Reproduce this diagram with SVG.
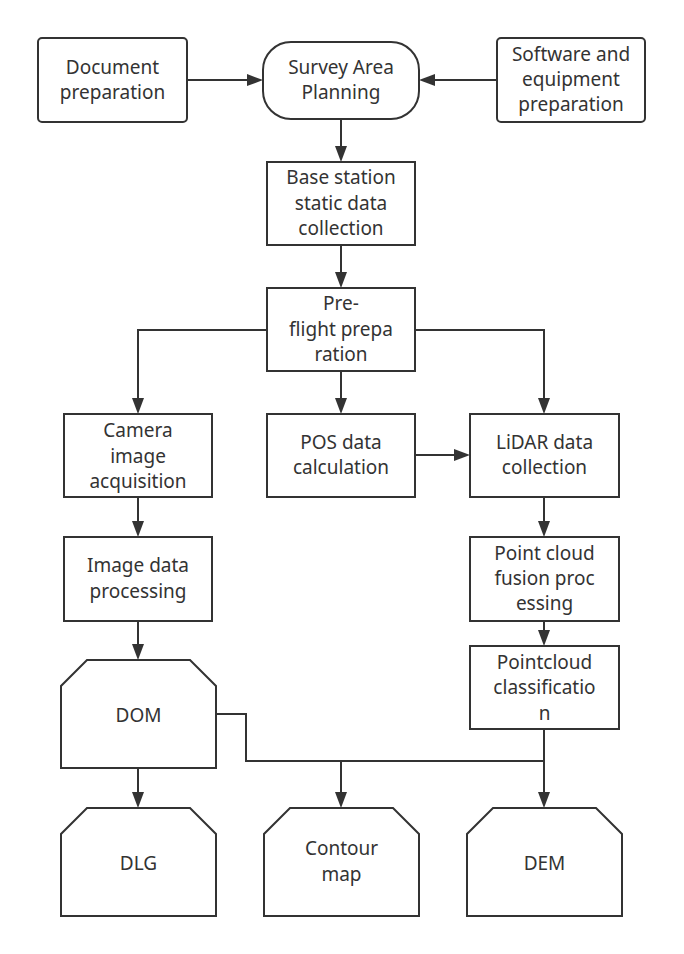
<svg xmlns="http://www.w3.org/2000/svg" width="684" height="954" viewBox="0 0 684 954">
<defs>
<style>
.n{fill:#ffffff;stroke:#333333;stroke-width:2;stroke-linejoin:miter}
.t{font-family:"Noto Sans","Open Sans","Liberation Sans",sans-serif;font-size:19px;fill:#333333;text-anchor:middle}
.c{fill:none;stroke:#333333;stroke-width:2}
</style>
<marker id="ah" markerUnits="userSpaceOnUse" markerWidth="18" markerHeight="14" refX="13" refY="6" orient="auto">
<path d="M0,0 L16,6 L0,12 Z" fill="#333333"/>
</marker>
</defs>
<rect width="684" height="954" fill="#ffffff"/>
<g id="connectors">
<path class="c" d="M187,80 H260" marker-end="url(#ah)"/>
<path class="c" d="M497,80 H422" marker-end="url(#ah)"/>
<path class="c" d="M341,119 V159" marker-end="url(#ah)"/>
<path class="c" d="M341,245 V285" marker-end="url(#ah)"/>
<path class="c" d="M267,330 H138 V411" marker-end="url(#ah)"/>
<path class="c" d="M341,371 V411" marker-end="url(#ah)"/>
<path class="c" d="M415,330 H544 V411" marker-end="url(#ah)"/>
<path class="c" d="M415,455 H467" marker-end="url(#ah)"/>
<path class="c" d="M138,497 V534" marker-end="url(#ah)"/>
<path class="c" d="M544,497 V534" marker-end="url(#ah)"/>
<path class="c" d="M138,621 V657" marker-end="url(#ah)"/>
<path class="c" d="M544,621 V643" marker-end="url(#ah)"/>
<path class="c" d="M138,768 V805" marker-end="url(#ah)"/>
<path class="c" d="M216,714 H246 V761 H544"/>
<path class="c" d="M341,761 V805" marker-end="url(#ah)"/>
<path class="c" d="M544,729 V805" marker-end="url(#ah)"/>
</g>
<g id="doc-prep">
<rect class="n" x="38" y="38" width="149" height="84" rx="4"/>
<text class="t" x="112.5" y="74">Document</text>
<text class="t" x="112.5" y="99">preparation</text>
</g>
<g id="survey-planning">
<rect class="n" x="263" y="42" width="156" height="77" rx="28"/>
<text class="t" x="341" y="74">Survey Area</text>
<text class="t" x="341" y="99">Planning</text>
</g>
<g id="software-prep">
<rect class="n" x="497" y="38" width="148" height="84" rx="4"/>
<text class="t" x="571" y="61">Software and</text>
<text class="t" x="571" y="86">equipment</text>
<text class="t" x="571" y="111">preparation</text>
</g>
<g id="base-station">
<rect class="n" x="267" y="162" width="148" height="83"/>
<text class="t" x="341" y="184">Base station</text>
<text class="t" x="341" y="210">static data</text>
<text class="t" x="341" y="235">collection</text>
</g>
<g id="preflight">
<rect class="n" x="267" y="288" width="148" height="83"/>
<text class="t" x="341" y="310">Pre-</text>
<text class="t" x="341" y="336">flight prepa</text>
<text class="t" x="341" y="361">ration</text>
</g>
<g id="camera">
<rect class="n" x="64" y="414" width="148" height="83"/>
<text class="t" x="138" y="437">Camera</text>
<text class="t" x="138" y="463">image</text>
<text class="t" x="138" y="488">acquisition</text>
</g>
<g id="pos">
<rect class="n" x="267" y="414" width="148" height="83"/>
<text class="t" x="341" y="449">POS data</text>
<text class="t" x="341" y="474">calculation</text>
</g>
<g id="lidar">
<rect class="n" x="470" y="414" width="149" height="83"/>
<text class="t" x="544.5" y="449">LiDAR data</text>
<text class="t" x="544.5" y="474">collection</text>
</g>
<g id="image-proc">
<rect class="n" x="64" y="537" width="148" height="84"/>
<text class="t" x="138" y="572">Image data</text>
<text class="t" x="138" y="598">processing</text>
</g>
<g id="pc-fusion">
<rect class="n" x="470" y="537" width="149" height="84"/>
<text class="t" x="544.5" y="560">Point cloud</text>
<text class="t" x="544.5" y="585">fusion proc</text>
<text class="t" x="544.5" y="610">essing</text>
</g>
<g id="pc-class">
<rect class="n" x="470" y="646" width="149" height="83"/>
<text class="t" x="544.5" y="669">Pointcloud</text>
<text class="t" x="544.5" y="694">classificatio</text>
<text class="t" x="544.5" y="720">n</text>
</g>
<g id="dom">
<polygon class="n" points="87,660 190,660 216,686 216,768 61,768 61,686"/>
<text class="t" x="138.5" y="722">DOM</text>
</g>
<g id="dlg">
<polygon class="n" points="87,808 190,808 216,834 216,916 61,916 61,834"/>
<text class="t" x="138.5" y="870">DLG</text>
</g>
<g id="contour">
<polygon class="n" points="290,808 393,808 419,834 419,916 264,916 264,834"/>
<text class="t" x="341.5" y="855">Contour</text>
<text class="t" x="341.5" y="881">map</text>
</g>
<g id="dem">
<polygon class="n" points="493,808 596,808 622,834 622,916 467,916 467,834"/>
<text class="t" x="544.5" y="870">DEM</text>
</g>
</svg>
